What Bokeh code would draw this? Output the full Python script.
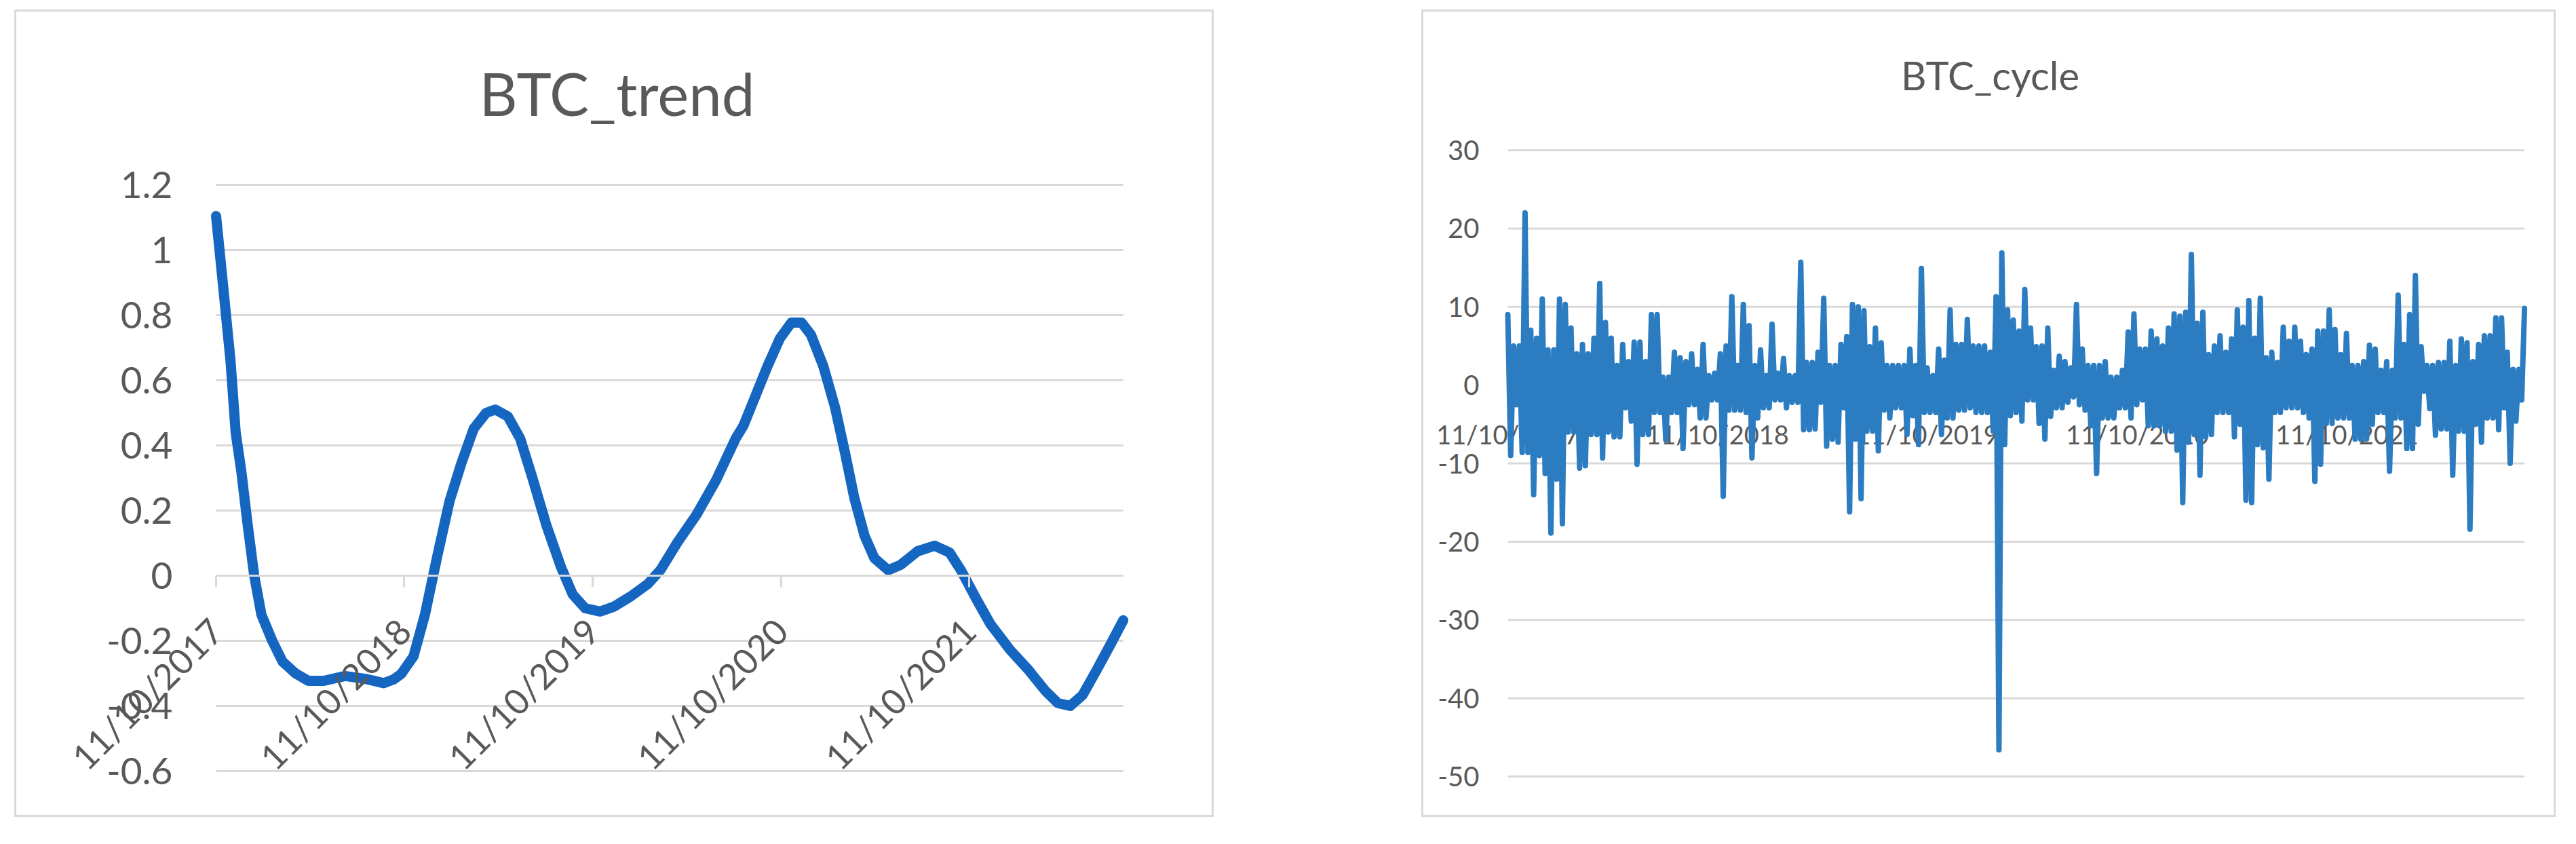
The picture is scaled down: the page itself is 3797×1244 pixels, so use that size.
import math
import pandas as pd
from bokeh.plotting import figure
from bokeh.layouts import row
from bokeh.models import Range1d, FixedTicker, DatetimeTickFormatter, Label
from bokeh.embed import file_html
from bokeh.resources import INLINE

# ---------------- data ----------------
start_date = "2017-11-10"
tick_dates = ["2017-11-10", "2018-11-10", "2019-11-10", "2020-11-10", "2021-11-10"]
trend_title = "BTC_trend"
cycle_title = "BTC_cycle"
trend_yticks = [-0.6, -0.4, -0.2, 0, 0.2, 0.4, 0.6, 0.8, 1, 1.2]
cycle_yticks = [-50, -40, -30, -20, -10, 0, 10, 20, 30]

# BTC_trend: days after 11/10/2017 and trend value
trend_days = [0, 13, 28, 38, 49, 61, 74, 88, 109, 129, 154, 179, 209, 250, 290, 325, 345,
              359, 383, 405, 429, 453, 476, 500, 524, 542, 566, 590, 613, 641, 669, 692,
              716, 745, 772, 805, 838, 862, 895, 932, 970, 1008, 1023, 1046, 1070, 1094,
              1116, 1136, 1154, 1178, 1201, 1220, 1238, 1258, 1277, 1304, 1328, 1361, 1394,
              1423, 1445, 1474, 1502, 1540, 1577, 1609, 1633, 1657, 1681, 1708, 1737, 1760]
trend_values = [1.104, 0.90, 0.66, 0.44, 0.32, 0.16, 0.0, -0.12, -0.20, -0.264, -0.30, -0.323,
                -0.323, -0.308, -0.317, -0.33, -0.318, -0.302, -0.248, -0.121, 0.059, 0.229,
                0.346, 0.452, 0.50, 0.51, 0.489, 0.421, 0.304, 0.154, 0.027, -0.058, -0.10,
                -0.11, -0.095, -0.063, -0.025, 0.017, 0.102, 0.187, 0.293, 0.421, 0.46, 0.55,
                0.644, 0.729, 0.777, 0.777, 0.74, 0.644, 0.516, 0.379, 0.24, 0.123, 0.054,
                0.017, 0.033, 0.075, 0.092, 0.071, 0.017, -0.069, -0.148, -0.227, -0.291,
                -0.354, -0.391, -0.40, -0.367, -0.291, -0.206, -0.137]

# BTC_cycle: one reading every 5 days from 11/10/2017
cycle_step_days = 5
cycle_values = [
    9, -9, 5, -2.5, 5, -8.6, 22, -8.6, 7, -14,
    6, -9, 11, -11.3, 4.5, -18.9, 4.5, -12, 11, -17.7,
    10.3, -6, 7.3, -6, 4, -10.6, 5.2, -10.3, 4, -6.3,
    6, -6.3, 13, -9.3, 8, -6, 6, -6.6, 2.5, -6.6,
    5.2, -2.9, 3, -4.6, 5.5, -10.1, 5.5, -6.3, 3, -6.3,
    9, -3.5, 9, -3.5, 1, -7, 1, -3.5, 4.2, -3.5,
    3.5, -8.1, 3, -2.5, 4, -2.5, 2, -4.2, 5.2, -4.2,
    1.2, -1.9, 1.5, -1.9, 4, -14.2, 5, -3.2, 11.3, -3.2,
    2.5, -3.2, 10.3, -3.5, 7.6, -9.3, 2.5, -4.2,
    4.5, -2.9, 1.2, -2.9, 7.8, -1.9, 1.5, -1.9, 3.4, -2.9,
    1.2, -2.2, 1.2, -2.2, 15.7, -5.7, 2.9, -5.7, 2.9, -5.6,
    4.2, -2.2, 11.1, -7.8, 2.5, -6.9, 2.5, -7.3, 5.2, -2.9,
    6.2, -16.2, 10.3, -6.9, 10, -14.5, 9.5, -5.9, 4.9, -5.9,
    7.3, -8.4, 5.4, -3.2, 2.5, -4.2, 2.5, -2.9, 2.5, -2.9,
    2.5, -6.3, 4.6, -3.9, 2.5, -7.6, 14.9, -3.5, 2.2, -3.5,
    1.2, -3.5, 4.6, -6.3, 3.2, -4.2, 9.6, -4.2, 5.2, -3.2,
    5.2, -3.2, 8.4, -2.9, 5, -3.5, 5, -3.5, 5, -3.5,
    4.2, -5.9, 11.3, -46.6, 16.9, -7.6, 9.6, -3.9,
    8.3, -3.5, 6.9, -4.6, 12.2, -1.9, 7.3, -1.9, 4.9, -4.9,
    5, -6.9, 7.3, -4, 1.9, -2.9, 3.7, -2.9, 3, -2.2,
    2.2, -1.5, 10.3, -2.5, 4.6, -3.2, 2.5, -5.2, 2.5, -11.3,
    2.5, -4.2, 3, -4.2, 1, -4.2, 1, -2.9, 1.9, -2.9,
    6.8, -4.2, 9.1, -2.5, 4.6, -1.9, 4.6, -5.2, 6.9, -5.2,
    5.9, -5.2, 5, -5.9, 7.3, -5.9, 9.1, -8.3, 8.8, -15,
    9.3, -7.3, 16.7, -6.3, 7.9, -11.5, 9.3, -6.6, 3.9, -6.3,
    5, -3.5, 6.3, -3.5, 4.2, -3.5, 5.9, -6.6, 9.6, -5,
    7.4, -14.7, 10.8, -15, 6, -7.6, 11.1, -8, 3.5, -12,
    4.2, -3.5, 2.9, -3.5, 7.4, -2.9, 5.6, -2.9, 7.4, -2.9,
    5.6, -3.5, 3.9, -4.2, 4.6, -12.3, 6.9, -10.1, 6.9, -4.9,
    9.6, -4.9, 7.1, -4.2, 3.9, -4.2, 6.6, -4.2, 2.5, -6.9,
    2.5, -6.9, 3, -6.9, 5.1, -5, 4.6, -3.5, 1.9, -3.5,
    3, -11, 1.9, -4.2, 11.5, -4.2, 5.2, -8.1, 9, -8.1,
    14, -5, 4.9, -0.8, 2.5, -3, 2.5, -6.4, 2.9, -5.6,
    2.9, -5.6, 5.6, -11.5, 2.5, -5.9, 5.9, -5.9, 5.4, -18.4,
    3, -5, 5.2, -7.3, 6.3, -4.2, 6.3, -4.2, 8.6, -5.7,
    8.6, -2.9, 4.2, -10, 2, -4.6, 2, -1.9, 9.8,
]

# ---------------- derived x values ----------------
t0 = pd.Timestamp(start_date)
trend_dates = [t0 + pd.Timedelta(days=d) for d in trend_days]
cycle_dates = list(pd.date_range(t0, periods=len(cycle_values), freq=f"{cycle_step_days}D"))
tick_ms = [pd.Timestamp(d).value // 10**6 for d in tick_dates]
last_tick_day = (pd.Timestamp(tick_dates[-1]) - t0).days

FONT = "Lato"
TXT = "#595959"
GRID = "#d9d9d9"
fmt = "%m/%d/%Y"
dt_fmt = DatetimeTickFormatter(microseconds=fmt, milliseconds=fmt, seconds=fmt, minsec=fmt,
                               minutes=fmt, hourmin=fmt, hours=fmt, days=fmt, months=fmt, years=fmt)

# ---------------- layout geometry (pixels inside each figure) ----------------
FIG_H = 1190
BORDER = 5


def inv(p, va, vb, pa, pb):
    """pixel -> value for a linear mapping where va->pa and vb->pb"""
    return va + (p - pa) * (vb - va) / (pb - pa)


def day_to_ts(d):
    return t0 + pd.Timedelta(days=d)


def build(width, xpix, ypix, yref, yticks, dates, values, title, title_pix, title_size,
          line_color, line_width, ylab_size, ylab_standoff):
    # xpix: pixel of day 0 and of the last tick day; ypix: pixel of yref[0], yref[1]
    x0 = inv(BORDER, 0, last_tick_day, *xpix)
    x1 = inv(width - BORDER, 0, last_tick_day, *xpix)
    y1 = inv(BORDER, yref[0], yref[1], *ypix)
    y0 = inv(FIG_H - BORDER, yref[0], yref[1], *ypix)
    p = figure(width=width, height=FIG_H, x_axis_type="datetime",
               x_range=Range1d(day_to_ts(x0), day_to_ts(x1)), y_range=Range1d(y0, y1),
               output_backend="svg", toolbar_location=None,
               min_border_left=BORDER, min_border_right=BORDER,
               min_border_top=BORDER, min_border_bottom=BORDER)
    p.background_fill_color = "white"
    p.border_fill_color = "white"
    p.outline_line_color = None
    p.xgrid.visible = False
    p.ygrid.visible = False
    # horizontal gridlines over the data extent
    n = len(yticks)
    p.segment(x0=[dates[0]] * n, x1=[dates[-1]] * n, y0=yticks, y1=yticks,
              line_color=GRID, line_width=3)
    ya = p.yaxis[0]
    ya.fixed_location = pd.Timestamp(dates[0]).value / 1e6
    ya.ticker = FixedTicker(ticks=yticks)
    ya.major_label_overrides = {t: f"{t:g}" for t in yticks}
    ya.axis_line_color = None
    ya.major_tick_line_color = None
    ya.minor_tick_line_color = None
    ya.major_label_text_font = FONT
    ya.major_label_text_color = TXT
    ya.major_label_text_font_size = ylab_size
    ya.major_label_standoff = ylab_standoff
    xa = p.xaxis[0]
    xa.fixed_location = 0
    xa.bounds = (pd.Timestamp(dates[0]).value / 1e6, pd.Timestamp(dates[-1]).value / 1e6)
    xa.ticker = FixedTicker(ticks=tick_ms)
    xa.formatter = dt_fmt
    xa.axis_line_color = GRID
    xa.axis_line_width = 3
    xa.minor_tick_line_color = None
    xa.major_label_text_font = FONT
    xa.major_label_text_color = TXT
    p.line(dates, values, line_color=line_color, line_width=line_width,
           line_join="round", line_cap="round")
    tx = inv(title_pix[0], 0, last_tick_day, *xpix)
    ty = inv(title_pix[1], yref[0], yref[1], *ypix)
    p.add_layout(Label(x=pd.Timestamp(day_to_ts(tx)).value / 1e6, y=ty, text=title,
                       text_align="center", text_baseline="alphabetic",
                       text_font=FONT, text_font_size=title_size, text_color=TXT))
    p.styles = {"border": "3px solid #d9d9d9"}
    return p


# ---------------- left: BTC_trend ----------------
p1 = build(1768, (294, 1404), (255, 1119), (1.2, -0.6), trend_yticks, trend_dates, trend_values,
           trend_title, (885, 120), "87px", "#1566C0", 15, "55px", 58)
xa1 = p1.xaxis[0]
xa1.major_label_text_font_size = "52px"
xa1.major_label_orientation = math.pi / 4
xa1.major_label_standoff = 55
xa1.major_tick_out = 17
xa1.major_tick_in = 0
xa1.major_tick_line_color = GRID
xa1.major_tick_line_width = 3
p1.margin = (14, 0, 0, 21)

# ---------------- right: BTC_cycle ----------------
p2 = build(1672, (124, 1361), (204, 1127), (30, -50), cycle_yticks, cycle_dates, cycle_values,
           cycle_title, (835, 93), "58px", "#2B7CC0", 8, "40px", 36)
xa2 = p2.xaxis[0]
xa2.major_label_text_font_size = "38px"
xa2.major_label_standoff = 49
xa2.major_tick_out = 0
xa2.major_tick_in = 0
xa2.major_tick_line_color = None
xa2.level = "underlay"
p2.margin = (14, 0, 0, 306)

layout = row(p1, p2)
open("out.html", "w").write(file_html(layout, INLINE))
